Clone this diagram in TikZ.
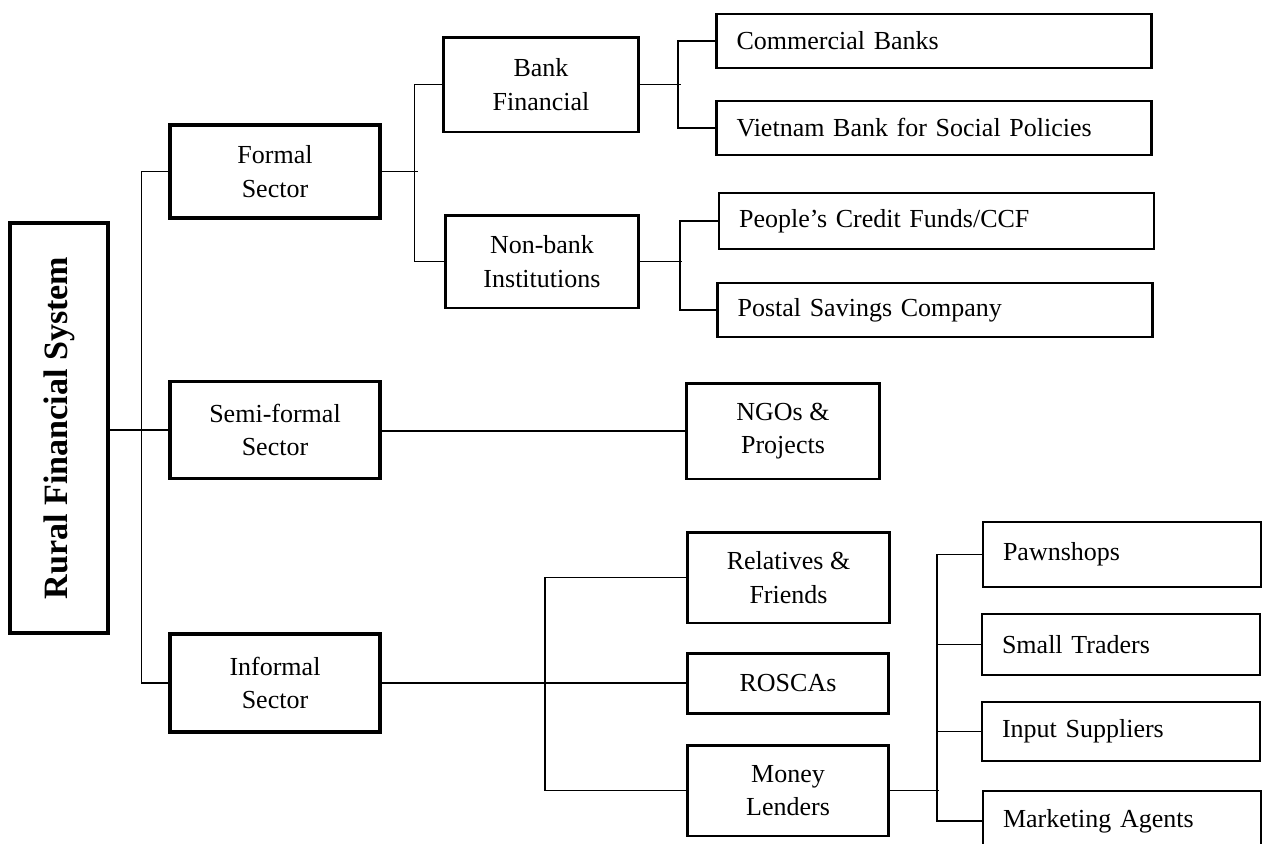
\documentclass[tikz,border=0pt]{standalone}
\usepackage{graphicx}
\usepackage{fontspec}
\setmainfont{Liberation Serif}

\begin{document}
\begin{tikzpicture}[x=0.02cm, y=-0.02cm,
    every node/.style={font=\fontsize{14.8}{19}\selectfont},
    link/.style={line width=0.9pt},
    rootbox/.style={draw, line width=2.3pt, minimum width=1.96cm, minimum height=8.2cm, inner sep=0pt},
    sectorbox/.style={draw, line width=1.8pt, minimum width=4.2cm, align=center, inner sep=0pt},
    midbox/.style={draw, line width=1.7pt, minimum width=#1, align=center, inner sep=0pt},
    leafbox/.style={draw, line width=1.5pt, text width=#1, align=left, inner xsep=0.4cm, inner ysep=0pt}]
    \useasboundingbox (0,0) rectangle (1265,843);

    \node[rootbox] (rfs) at (59,428) {\rotatebox{90}{\fontsize{19.4}{22}\selectfont\bfseries Rural Financial System}};

    \node[sectorbox, minimum height=1.86cm] (formal) at (275,171.5) {Formal\\Sector};
    \node[sectorbox, minimum height=1.94cm] (semi) at (275,430) {Semi-formal\\Sector};
    \node[sectorbox, minimum height=1.96cm] (informal) at (275,683) {Informal\\Sector};

    \node[midbox=3.92cm, minimum height=1.9cm] (bank) at (541,84.5) {Bank\\Financial};
    \node[midbox=3.88cm, minimum height=1.86cm] (nonbank) at (542,261.5) {Non-bank\\Institutions};
    \node[midbox=3.88cm, minimum height=1.92cm] (ngo) at (783,431) {NGOs \&\\Projects};
    \node[midbox=4.04cm, minimum height=1.82cm] (rel) at (788.5,577.5) {Relatives \&\\Friends};
    \node[midbox=4.04cm, minimum height=1.2cm] (rosca) at (788,683) {ROSCAs};
    \node[midbox=4.04cm, minimum height=1.82cm] (money) at (788,790.5) {Money\\Lenders};

    \node[leafbox=7.9cm, minimum height=1.08cm] (com) at (934,41) {Commercial Banks};
    \node[leafbox=7.9cm, minimum height=1.08cm] (vbsp) at (934,128) {Vietnam Bank for Social Policies};
    \node[leafbox=7.9cm, minimum height=1.12cm] (pcf) at (936.5,221) {People’s Credit Funds/CCF};
    \node[leafbox=7.9cm, minimum height=1.08cm] (psc) at (935,310) {Postal Savings Company};

    \node[leafbox=4.76cm, minimum height=1.3cm] (pawn) at (1122,554.5) {Pawnshops};
    \node[leafbox=4.76cm, minimum height=1.22cm] (small) at (1121,644.5) {Small Traders};
    \node[leafbox=4.76cm, minimum height=1.18cm] (input) at (1121,731.5) {Input Suppliers};
    \node[leafbox=4.76cm, minimum height=1.2cm] (mkt) at (1122,821) {Marketing Agents};

    \draw[link] (rfs.east |- semi.west) -- (semi.west);
    \draw[link] (formal.west) -- ++(-27,0) |- (informal.west);
    \draw[link] (formal.east) -- ++(36,0);
    \draw[link] (bank.west) -- ++(-27,0) |- (nonbank.west);
    \draw[link] (bank.east) -- ++(41,0);
    \draw[link] (com.west) -- ++(-37,0) |- (vbsp.west);
    \draw[link] (nonbank.east) -- ++(42,0);
    \draw[link] (pcf.west) -- ++(-38,0) |- (psc.west);
    \draw[link] (semi.east |- ngo.west) -- (ngo.west);
    \draw[link] (informal.east) -- (rosca.west);
    \draw[link] (rel.west) -- ++(-141,0) |- (money.west);
    \draw[link] (money.east) -- ++(49,0);
    \draw[link] (pawn.west) -- ++(-45,0) |- (mkt.west);
    \draw[link] (small.west) -- ++(-44,0);
    \draw[link] (input.west) -- ++(-44,0);
\end{tikzpicture}
\end{document}
